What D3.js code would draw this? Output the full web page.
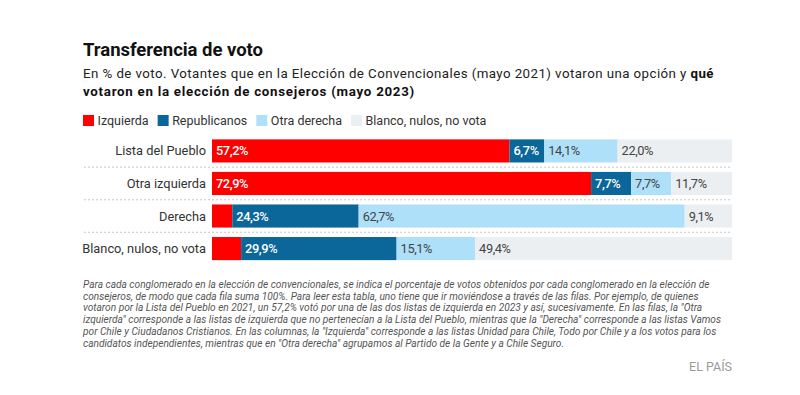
<!DOCTYPE html>
<html><head><meta charset="utf-8">
<script src="https://cdn.jsdelivr.net/npm/d3@7"></script>
<style>
html,body{margin:0;padding:0;background:#fff;}
svg{display:block;font-family:Roboto, "Noto Sans", sans-serif;}
</style></head>
<body><svg id="c" width="800" height="395"></svg>
<script>
const title = "Transferencia de voto";
const subtitle1 = "En % de voto. Votantes que en la Elección de Convencionales (mayo 2021) votaron una opción y ";
const subtitle1b = "qué";
const subtitle2 = "votaron en la elección de consejeros (mayo 2023)";
const categories = ["Lista del Pueblo", "Otra izquierda", "Derecha", "Blanco, nulos, no vota"];
const seriesNames = ["Izquierda", "Republicanos", "Otra derecha", "Blanco, nulos, no vota"];
const izquierda = [57.2, 72.9, 3.9, 5.6];
const republicanos = [6.7, 7.7, 24.3, 29.9];
const otraDerecha = [14.1, 7.7, 62.7, 15.1];
const blanco = [22.0, 11.7, 9.1, 49.4];
const seriesColors = ["#ff0000", "#0b6699", "#afe0fa", "#eceff1"];
const labelColors = ["#ffffff", "#ffffff", "#444444", "#444444"];
const notes = [
 "Para cada conglomerado en la elección de convencionales, se indica el porcentaje de votos obtenidos por cada conglomerado en la elección de",
 "consejeros, de modo que cada fila suma 100%. Para leer esta tabla, uno tiene que ir moviéndose a través de las filas. Por ejemplo, de quienes",
 "votaron por la Lista del Pueblo en 2021, un 57,2% votó por una de las dos listas de izquierda en 2023 y así, sucesivamente. En las filas, la \"Otra",
 "izquierda\" corresponde a las listas de izquierda que no pertenecían a la Lista del Pueblo, mientras que la \"Derecha\" corresponde a las listas Vamos",
 "por Chile y Ciudadanos Cristianos. En las columnas, la \"Izquierda\" corresponde a las listas Unidad para Chile, Todo por Chile y a los votos para los",
 "candidatos independientes, mientras que en \"Otra derecha\" agrupamos al Partido de la Gente y a Chile Seguro."
];
const source = "EL PAÍS";

const svg = d3.select("#c");
const L = 83;

// spread text by letter-spacing so that it reaches a target width
function fit(sel, target) {
  const n = sel.node();
  const w = n.getComputedTextLength();
  const chars = n.textContent.length;
  sel.attr("letter-spacing", (target - w) / chars);
}

// title
const tt = svg.append("text").attr("x", L).attr("y", 56).attr("font-size", 18.5).attr("font-weight", 700)
  .attr("fill", "#111").text(title);
fit(tt, 180);
const st = svg.append("text").attr("x", L).attr("y", 77.5).attr("font-size", 13.3).attr("fill", "#222");
st.append("tspan").text(subtitle1);
st.append("tspan").attr("font-weight", 700).attr("fill", "#111").text(subtitle1b);
fit(st, 631);
const st2 = svg.append("text").attr("x", L).attr("y", 95.5).attr("font-size", 13.3).attr("font-weight", 700)
  .attr("fill", "#111").text(subtitle2);
fit(st2, 332);

// legend
let lx = L;
seriesNames.forEach((n, i) => {
  svg.append("rect").attr("x", lx).attr("y", 115).attr("width", 11).attr("height", 11).attr("fill", seriesColors[i]);
  const t = svg.append("text").attr("x", lx + 14.5).attr("y", 125).attr("font-size", 12.5).attr("fill", "#333").text(n);
  lx += 14.5 + t.node().getComputedTextLength() + 9;
});

// data table
const rows = categories.map((c, i) => {
  const vals = [izquierda[i], republicanos[i], otraDerecha[i], blanco[i]];
  let acc = 0;
  return {cat: c, segs: vals.map((v, k) => { const s = {k, v, x0: acc, x1: acc + v}; acc += v; return s; })};
});

const x = d3.scaleLinear().domain([0, 100]).range([212, 732]);
const y = d3.scaleBand().domain(categories).range([134.5, 265]).paddingInner(0.29).paddingOuter(0.15);

// separators
categories.slice(1).forEach(c => {
  const yy = y(c) - y.step() * y.paddingInner() / 2;
  svg.append("line").attr("x1", 84).attr("x2", 732).attr("y1", yy).attr("y2", yy)
    .attr("stroke", "#c8c8c8").attr("stroke-width", 1).attr("stroke-dasharray", "2,2");
});

const g = svg.selectAll("g.row").data(rows).join("g").attr("class", "row");
g.append("text").attr("x", 206).attr("y", d => y(d.cat) + y.bandwidth() / 2 + 4.5)
  .attr("text-anchor", "end").attr("font-size", 12.8).attr("fill", "#333").text(d => d.cat);
g.selectAll("rect").data(d => d.segs.map(s => ({...s, cat: d.cat}))).join("rect")
  .attr("x", d => x(d.x0)).attr("width", d => x(d.x1) - x(d.x0))
  .attr("y", d => y(d.cat)).attr("height", y.bandwidth())
  .attr("fill", d => seriesColors[d.k]);
g.selectAll("text.val").data(d => d.segs.filter(s => s.v >= 6).map(s => ({...s, cat: d.cat}))).join("text")
  .attr("class", "val")
  .attr("x", d => x(d.x0) + 4).attr("y", d => y(d.cat) + y.bandwidth() / 2 + 4.5)
  .attr("font-size", 12.8).attr("letter-spacing", -0.4)
  .attr("font-weight", d => d.k < 2 ? 500 : 400)
  .attr("fill", d => labelColors[d.k])
  .text(d => d.v.toFixed(1).replace(".", ",") + "%");

// notes
const nt = svg.append("g");
notes.forEach((n, i) => {
  nt.append("text").attr("x", L).attr("y", 288 + i * 11.7).attr("font-size", 9.6)
    .attr("font-style", "italic").attr("fill", "#555").text(n);
});
const w0 = nt.select("text").node().getComputedTextLength();
const fs = 9.6 * 627 / w0;
nt.selectAll("text").attr("font-size", fs);

const src = svg.append("text").attr("x", 732).attr("y", 371).attr("text-anchor", "end").attr("font-size", 12.5)
  .attr("fill", "#9a9a9a").text(source);
</script></body></html>
